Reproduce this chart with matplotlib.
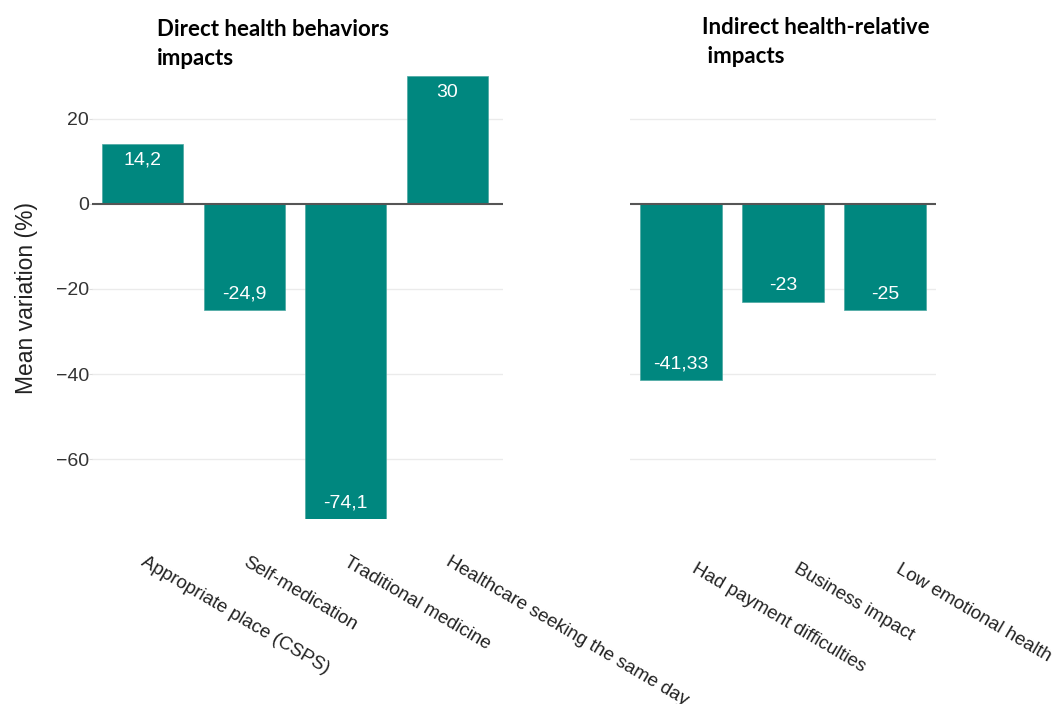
import numpy as np
import matplotlib
matplotlib.use('Agg')
import matplotlib.pyplot as plt
from matplotlib.transforms import ScaledTranslation

# Data
direct_labels = ['Appropriate place (CSPS)', 'Self-medication', 'Traditional medicine',
                 'Healthcare seeking the same day']
direct_values = [14.2, -24.9, -74.1, 30]
direct_text = ['14,2', '-24,9', '-74,1', '30']

indirect_labels = ['Had payment difficulties', 'Business impact', 'Low emotional health']
indirect_values = [-41.33, -23, -25]
indirect_text = ['-41,33', '-23', '-25']

yticks = [20, 0, -20, -40, -60]
bar_color = '#00877f'

plt.rcParams['font.family'] = ['Liberation Sans', 'DejaVu Sans']

fig = plt.figure(figsize=(10.64, 7.04), dpi=100)
ax1 = fig.add_axes([92/1064, 1-519/704, 411/1064, 443/704])
ax2 = fig.add_axes([630/1064, 1-519/704, 306/1064, 443/704])

def draw_panel(ax, labels, values, texts, show_y, dx, dy):
    x = np.arange(len(values))
    ax.set_ylim(-74.1, 30.1)
    ax.set_xlim(-0.5, len(values) - 0.5 + (0.05 if show_y else 0))
    for y in yticks:
        if y == 0:
            continue
        ax.axhline(y, color='#ebebeb', lw=1, zorder=0)
    ax.bar(x, values, width=0.8, color=bar_color, edgecolor='#4aa8a2', linewidth=0.5, zorder=2)
    ax.axhline(0, color='#555555', lw=1.5, zorder=3)
    for xi, v, t in zip(x, values, texts):
        off = -16 if v > 0 else 16
        ax.annotate(t, (xi, v), xytext=(0, off), textcoords='offset pixels',
                    ha='center', va='center', color='white', fontsize=14, zorder=4)
    for s in ax.spines.values():
        s.set_visible(False)
    ax.set_xticks(x)
    ax.set_xticklabels(labels, rotation=-30.5, ha='left', rotation_mode='anchor',
                       fontsize=13.5, color='#222222')
    ax.tick_params(axis='x', length=0, pad=25)
    shift = ScaledTranslation(dx/100, -dy/100, fig.dpi_scale_trans)
    for lab in ax.get_xticklabels():
        lab.set_transform(lab.get_transform() + shift)
    ax.set_yticks(yticks)
    if show_y:
        ax.set_yticklabels(['20', '0', '\u221220', '\u221240', '\u221260'], fontsize=14, color='#333333')
        ax.tick_params(axis='y', length=2, color='#dddddd', pad=0)
        ax.set_ylabel('Mean variation (%)', fontsize=16.5, color='#222222', labelpad=13)
    else:
        ax.tick_params(axis='y', length=0, labelleft=False)

draw_panel(ax1, direct_labels, direct_values, direct_text, True, 4, 0)
draw_panel(ax2, indirect_labels, indirect_values, indirect_text, False, 17, 7)

fig.text(157/1064, 1-19/704, 'Direct health behaviors\nimpacts', ha='left', va='top',
         fontsize=16, fontweight='bold', family=['Lato', 'DejaVu Sans'], linespacing=1.45)
fig.text(702/1064, 1-17/704, 'Indirect health-relative\n impacts', ha='left', va='top',
         fontsize=16, fontweight='bold', family=['Lato', 'DejaVu Sans'], linespacing=1.45)

fig.savefig('out.png', dpi=100)
